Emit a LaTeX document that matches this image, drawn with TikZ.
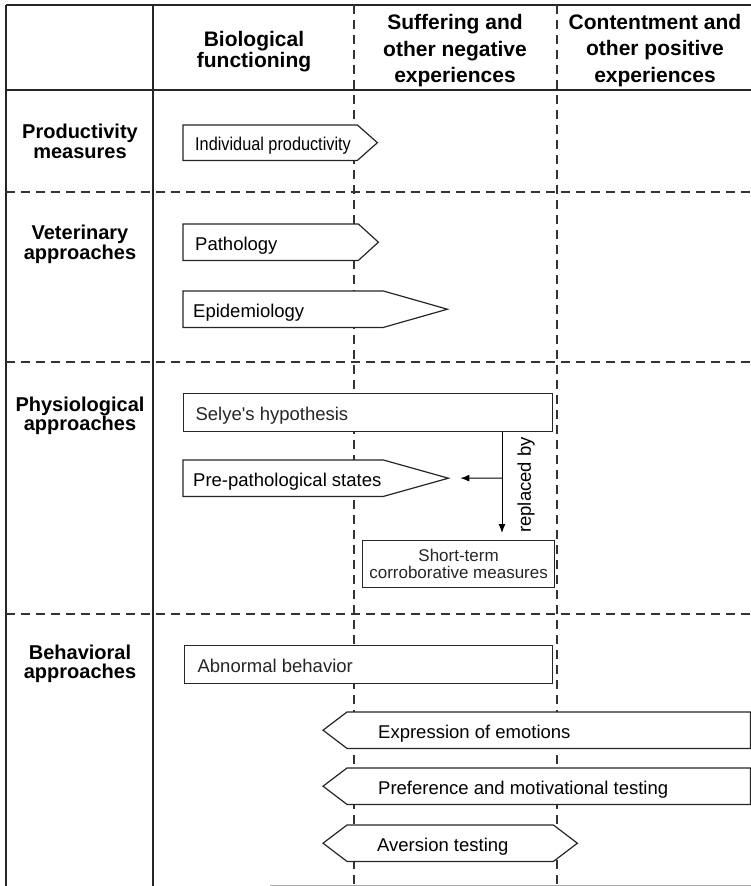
\documentclass[tikz,border=0pt]{standalone}
\usepackage{fontspec}
\setmainfont{Liberation Sans}
\usepackage{graphicx}
\usetikzlibrary{arrows.meta}

\newcommand{\hdrfont}{\fontsize{21}{26.5}\selectfont\bfseries}
\newcommand{\rowfont}{\fontsize{20}{19.5}\selectfont\bfseries}
\newcommand{\boxfont}{\fontsize{18.5}{21}\selectfont}
\newcommand{\bstrut}{\rule[-4.5pt]{0pt}{25pt}}

\pgfdeclarelayer{tablelayer}
\pgfdeclarelayer{shapelayer}
\pgfsetlayers{tablelayer,shapelayer,main}

\tikzset{
  tableline/.style={line width=1.5pt, black!85},
  dashline/.style={line width=1.2pt, black!80, dash pattern=on 9pt off 6pt},
  boxbody/.style={inner sep=0pt, anchor=north west, font=\boxfont},
  boxline/.style={line width=1.2pt, black!85, fill=white},
  replarrow/.style={-{Latex[length=9pt,width=7pt]}, line width=1pt},
}

\begin{document}
\begin{tikzpicture}[x=1pt, y=-1pt]
  \useasboundingbox (0,0) rectangle (751,886);
  % table
  \begin{pgfonlayer}{tablelayer}
    \draw[tableline] (6,5) -- (751,5);
    \draw[tableline] (6,90) -- (751,90);
    \draw[tableline] (6,5) -- (6,886);
    \draw[tableline] (153,5) -- (153,886);
    \draw[dashline] (354,5) -- (354,886);
    \draw[dashline] (557,5) -- (557,886);
    \draw[dashline] (6,192) -- (751,192);
    \draw[dashline] (6,362) -- (751,362);
    \draw[dashline] (6,614) -- (751,614);
    \draw[line width=1pt, black!35] (270,885) -- (751,885);
  \end{pgfonlayer}

  % column heads
  \node[align=center, font=\fontsize{21}{21}\selectfont\bfseries] (hbio) at (254,51.5) {Biological\\functioning};
  \node[align=center, font=\hdrfont] (hneg) at (455,50.7) {Suffering and\\other negative\\experiences};
  \node[align=center, font=\hdrfont] (hpos) at (655,50.2) {Contentment and\\other positive\\experiences};

  % row heads
  \node[align=center, font=\rowfont] (rprod) at (80,141.5) {Productivity\\measures};
  \node[align=center, font=\rowfont] (rvet) at (80,244.5) {Veterinary\\approaches};
  \node[align=center, font=\rowfont] (rphys) at (80,416) {Physiological\\approaches};
  \node[align=center, font=\rowfont] (rbeh) at (80,664) {Behavioral\\approaches};

  % productivity
  \node[boxbody, minimum height=35pt] (indprod) at (183,125)
    {\makebox[174pt][l]{\hspace{12pt}\scalebox{0.88}[1]{Individual productivity}\bstrut}};

  % veterinary
  \node[boxbody, minimum height=36pt] (patho) at (183,224)
    {\makebox[175pt][l]{\hspace{12pt}Pathology\bstrut}};
  \node[boxbody, minimum height=36pt] (epidem) at (183,291)
    {\makebox[200pt][l]{\hspace{10pt}Epidemiology\bstrut}};

  % physiological
  \node[boxbody, draw, boxline, minimum height=38pt] (selye) at (183,393)
    {\makebox[369pt][l]{\hspace{12pt}Selye\textquotesingle s hypothesis\bstrut}};
  \node[boxbody, minimum height=36pt] (prepath) at (183,460)
    {\makebox[200pt][l]{\hspace{10pt}Pre-pathological states\bstrut}};
  \coordinate (prepathtip) at ([xshift=65pt]prepath.east);
  \node[boxbody, draw, boxline, minimum width=192pt, minimum height=47pt, align=center,
    font=\fontsize{17}{17.5}\selectfont] (shortterm) at (362,540) {Short-term\\corroborative measures};
  \coordinate (split) at (502,478);
  \draw[replarrow, shorten >=7pt] (split |- selye.south) -- (split |- shortterm.north);
  \draw[replarrow, shorten >=12pt] (split) -- (prepathtip);
  \node[rotate=90, font=\boxfont] (replby) at (526,485) {replaced by};

  % behavioral
  \node[boxbody, draw, boxline, minimum height=38pt] (abnorm) at (184,645)
    {\makebox[368pt][l]{\hspace{13pt}Abnormal behavior\bstrut}};
  \node[boxbody, minimum height=36pt] (emotion) at (347,712)
    {\makebox[403pt][l]{\hspace{31pt}Expression of emotions\bstrut}};
  \node[boxbody, minimum height=36pt] (prefer) at (347,768)
    {\makebox[403pt][l]{\hspace{31pt}Preference and motivational testing\bstrut}};
  \node[boxbody, minimum height=36pt] (aversion) at (347,825)
    {\makebox[206pt][l]{\hspace{30pt}Aversion testing\bstrut}};

  % pointed outlines, under the texts
  \begin{pgfonlayer}{shapelayer}
    \draw[boxline] (indprod.north west) -- (indprod.north east) -- ([xshift=20pt]indprod.east)
      -- (indprod.south east) -- (indprod.south west) -- cycle;
    \draw[boxline] (patho.north west) -- (patho.north east) -- ([xshift=20pt]patho.east)
      -- (patho.south east) -- (patho.south west) -- cycle;
    \draw[boxline] (epidem.north west) -- (epidem.north east) -- ([xshift=64pt]epidem.east)
      -- (epidem.south east) -- (epidem.south west) -- cycle;
    \draw[boxline] (prepath.north west) -- (prepath.north east) -- (prepathtip)
      -- (prepath.south east) -- (prepath.south west) -- cycle;
    \draw[boxline] (emotion.north west) -- (emotion.north east) -- (emotion.south east)
      -- (emotion.south west) -- ([xshift=-24pt]emotion.west) -- cycle;
    \draw[boxline] (prefer.north west) -- (prefer.north east) -- (prefer.south east)
      -- (prefer.south west) -- ([xshift=-24pt]prefer.west) -- cycle;
    \draw[boxline] (aversion.north west) -- (aversion.north east) -- ([xshift=24pt]aversion.east)
      -- (aversion.south east) -- (aversion.south west) -- ([xshift=-24pt]aversion.west) -- cycle;
  \end{pgfonlayer}
\end{tikzpicture}
\end{document}
